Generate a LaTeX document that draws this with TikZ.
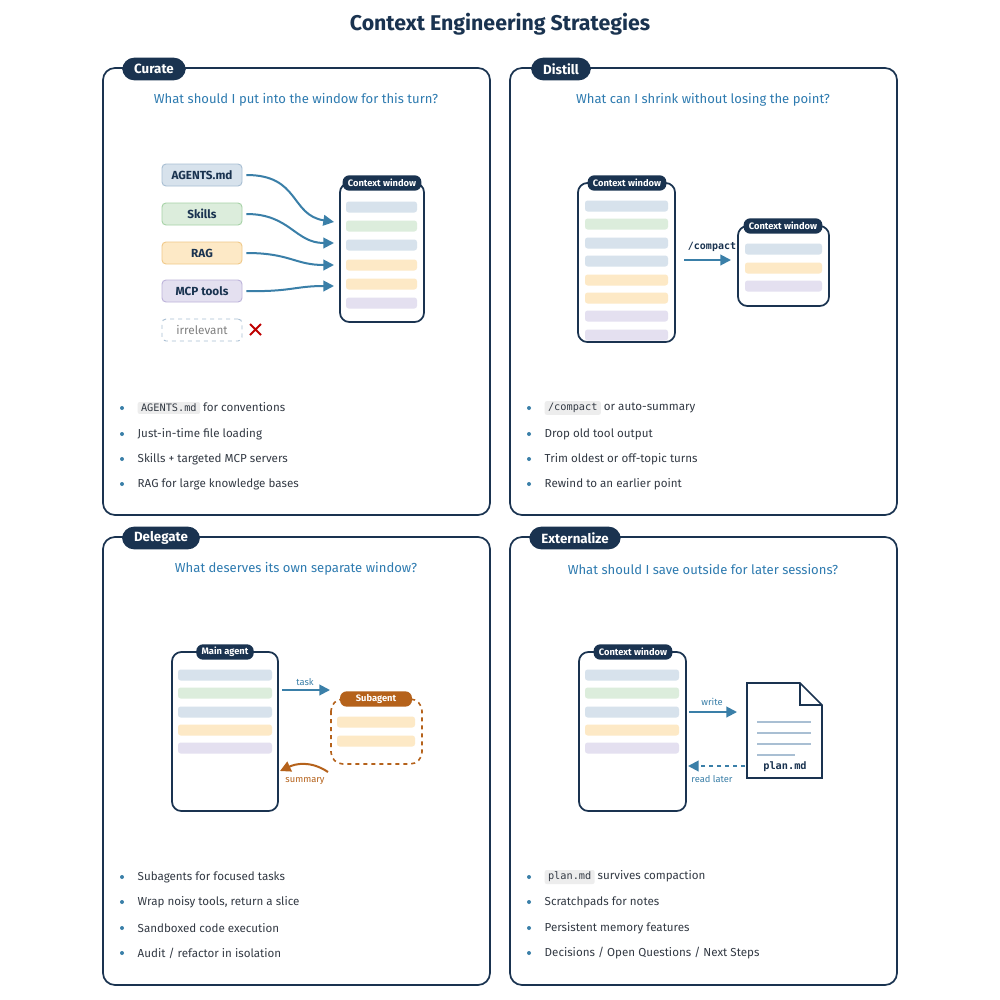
\documentclass[tikz,border=0pt]{standalone}
\usepackage{fontspec}
\setmainfont{Fira Sans}
\setmonofont{DejaVu Sans Mono}
\usetikzlibrary{arrows.meta}
\definecolor{navy}{HTML}{1A3350}
\definecolor{qblue}{HTML}{2E7BB0}
\definecolor{abl}{HTML}{3A7FA8}
\definecolor{fb}{HTML}{D7E2EC}\definecolor{db}{HTML}{A9BFD3}
\definecolor{fg}{HTML}{DCEDDC}\definecolor{dg}{HTML}{A7D3A7}
\definecolor{fo}{HTML}{FDE9C6}\definecolor{do}{HTML}{F0C98A}
\definecolor{fp}{HTML}{E4E0F0}\definecolor{dp}{HTML}{BDB3DA}
\definecolor{org}{HTML}{B5621B}
\definecolor{txt}{HTML}{333A44}
\tikzset{
 panel/.style={draw=navy,line width=1.3pt,rounded corners=9pt},
 tab/.style={fill=navy,text=white,rounded corners=9pt,font=\fontsize{10}{12}\selectfont\bfseries,minimum height=17pt,inner xsep=9pt},
 q/.style={text=qblue,font=\fontsize{9.8}{11}\selectfont},
 bl/.style={text=txt,font=\fontsize{8.7}{10}\selectfont,anchor=west},
 dot/.style={circle,fill=abl,inner sep=0pt,minimum size=3pt},
 code/.style={fill=black!7,rounded corners=1.5pt,inner xsep=2.5pt,inner ysep=1.5pt,font=\ttfamily\fontsize{7.7}{9}\selectfont},
 src/.style={rounded corners=3pt,line width=0.7pt,minimum width=60pt,minimum height=16.5pt,font=\fontsize{8.8}{10}\selectfont\bfseries,text=navy},
 win/.style={draw=navy,line width=1.3pt,rounded corners=7pt,fill=white},
 hdr/.style={fill=navy,text=white,rounded corners=5pt,font=\fontsize{7}{8}\selectfont\bfseries,minimum height=11.5pt,inner xsep=4pt,inner ysep=0pt},
 arr/.style={draw=abl,line width=1.5pt,-{Triangle[length=8pt,width=8pt]}},
 lab/.style={text=abl,font=\fontsize{7}{8}\selectfont},
}
\newcommand{\strip}[4]{\fill[#1,rounded corners=2pt] (#2,#4-5.5) rectangle (#3,#4+5.5);}
\begin{document}
\begin{tikzpicture}[x=0.75pt,y=-0.75pt]
\useasboundingbox (0,0) rectangle (1000,1000);
\fill[white] (0,0) rectangle (1000,1000);
\node[text=navy,font=\fontsize{16}{19}\selectfont\bfseries] (title) at (500,24) {Context Engineering Strategies};
% panels
\draw[panel] (103,68) rectangle (490,515);
\draw[panel] (510,68) rectangle (897,515);
\draw[panel] (103,537) rectangle (490,985);
\draw[panel] (510,537) rectangle (897,985);
\node[tab] (t1) at (154,69) {Curate};
\node[tab] (t2) at (561,69) {Distill};
\node[tab] (t3) at (161,538) {Delegate};
\node[tab] (t4) at (575,538) {Externalize};
\node[q] (q1) at (296,100) {What should I put into the window for this turn?};
\node[q] (q2) at (703,100) {What can I shrink without losing the point?};
\node[q] (q3) at (296,569) {What deserves its own separate window?};
\node[q] (q4) at (703,569) {What should I save outside for later sessions?};
% bullets
\foreach \x/\y/\t in {122/408/{\tikz[baseline]\node[code,anchor=base]{AGENTS.md};\ for conventions},122/434/{Just-in-time file loading},122/459/{Skills + targeted MCP servers},122/484/{RAG for large knowledge bases},
 529/408/{\tikz[baseline]\node[code,anchor=base]{/compact};\ or auto-summary},529/434/{Drop old tool output},529/459/{Trim oldest or off-topic turns},529/484/{Rewind to an earlier point},
 122/877/{Subagents for focused tasks},122/902/{Wrap noisy tools, return a slice},122/928/{Sandboxed code execution},122/953/{Audit / refactor in isolation},
 529/877/{\tikz[baseline]\node[code,anchor=base]{plan.md};\ survives compaction},529/902/{Scratchpads for notes},529/928/{Persistent memory features},529/953/{Decisions / Open Questions / Next Steps}}
 {\node[dot] at (\x,\y) {}; \node[bl] at (\x+11,\y) {\t};}
% Curate
\node[src,fill=fb,draw=db] (ag) at (202,175) {AGENTS.md};
\node[src,fill=fg,draw=dg] (sk) at (202,214) {Skills};
\node[src,fill=fo,draw=do] (rag) at (202,253) {RAG};
\node[src,fill=fp,draw=dp] (mcp) at (202,291) {MCP tools};
\node[src,draw=db,dashed,text=gray,font=\fontsize{8.8}{10}\selectfont] (irr) at (202,330) {irrelevant};
\draw[red!75!black,line width=1.5pt] (250,324) -- (261,335) (250,335) -- (261,324);
\draw[win] (340,183) rectangle (424,322);
\node[hdr] (cw1) at (382,183) {Context window};
\strip{fb}{346}{417}{207}\strip{fg}{346}{417}{226}\strip{fb}{346}{417}{245}
\strip{fo}{346}{417}{265}\strip{fo}{346}{417}{284}\strip{fp}{346}{417}{303}
\coordinate (c1) at (334,222);\coordinate (c2) at (334,243);\coordinate (c3) at (334,265);\coordinate (c4) at (334,286);
\draw[arr] (ag.east)+(4,0) .. controls (300,175) and (290,215) .. (c1);
\draw[arr] (sk.east)+(4,0) .. controls (290,214) and (295,243) .. (c2);
\draw[arr] (rag.east)+(4,0) .. controls (290,253) and (295,265) .. (c3);
\draw[arr] (mcp.east)+(4,0) .. controls (290,292) and (295,286) .. (c4);
% Distill
\draw[win] (578,183) rectangle (675,342);
\node[hdr] (cw2) at (627,183) {Context window};
\foreach \y/\c in {206/fb,224/fg,243/fb,261/fb,280/fo,298/fo,316/fp,335/fp}{\strip{\c}{585}{668}{\y}}
\draw[win] (738,226) rectangle (829,306);
\node[hdr] (cw3) at (783,226) {Context window};
\foreach \y/\c in {249/fb,268/fo,286/fp}{\strip{\c}{745}{822}{\y}}
\coordinate (d1) at (684,260);\coordinate (d2) at (731,260);
\draw[arr] (d1) -- (d2);
\node[font=\ttfamily\bfseries\fontsize{7.5}{9}\selectfont,text=navy] (cmp) at (712,247) {/compact};
% Delegate
\draw[win] (172,652) rectangle (278,811);
\node[hdr] (ma) at (225,652) {Main agent};
\foreach \y/\c in {675/fb,693/fg,712/fb,730/fo,748/fp}{\strip{\c}{178}{272}{\y}}
\draw[draw=org,line width=1.2pt,dashed,rounded corners=9pt] (331,699) rectangle (422,764);
\node[hdr,fill=org,minimum width=54pt] (sa) at (376,699) {Subagent};
\foreach \y in {722,741}{\strip{fo}{337}{415}{\y}}
\coordinate (e1) at (282,690);\coordinate (e2) at (330,690);
\draw[arr] (e1) -- (e2);
\node[lab] at (305,682) {task};
\coordinate (e3) at (328,772);\coordinate (e4) at (280,771);
\draw[draw=org,line width=1.5pt,-{Triangle[length=8pt,width=8pt]}] (e3) .. controls (310,760) and (295,764) .. (e4);
\node[lab,text=org] at (305,781) {summary};
% Externalize
\draw[win] (579,652) rectangle (686,811);
\node[hdr] (cw4) at (633,652) {Context window};
\foreach \y/\c in {675/fb,693/fg,712/fb,730/fo,748/fp}{\strip{\c}{585}{679}{\y}}
\draw[navy,line width=1.3pt,fill=white] (747,683) -- (800,683) -- (822,705) -- (822,778) -- (747,778) -- cycle;
\draw[navy,line width=1.3pt] (800,683) -- (800,705) -- (822,705);
\foreach \y/\e in {722/811,733/811,744/811,755/795}{\draw[db,line width=0.9pt] (757,\y) -- (\e,\y);}
\node[font=\ttfamily\bfseries\fontsize{7.7}{9}\selectfont,text=navy] (pm) at (785,767) {plan.md};
\coordinate (f1) at (689,712);\coordinate (f2) at (737,712);
\draw[arr] (f1) -- (f2);
\node[lab] at (712,702) {write};
\coordinate (f3) at (745,766);\coordinate (f4) at (688,766);
\draw[arr,dashed] (f3) -- (f4);
\node[lab] at (712,779) {read later};
\end{tikzpicture}
\end{document}
